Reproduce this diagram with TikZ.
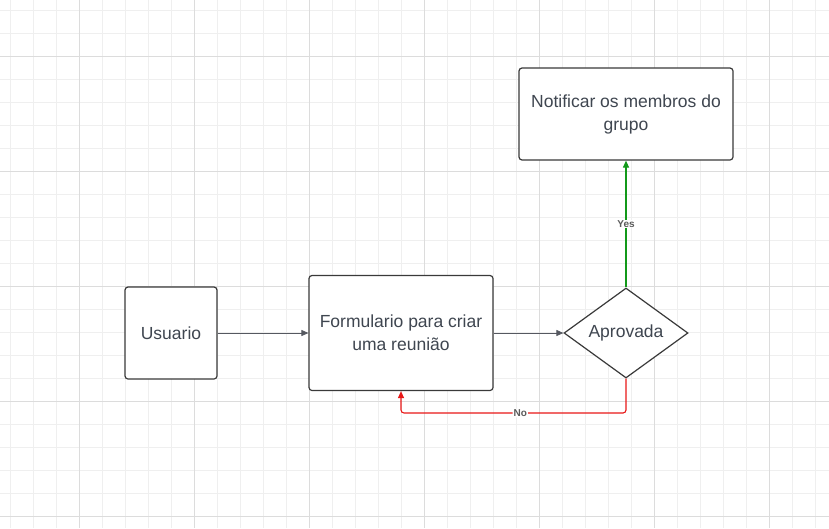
\documentclass[tikz,border=0pt]{standalone}
\usepackage{fontspec}
\setmainfont{Liberation Sans}
\usetikzlibrary{shapes.geometric,arrows.meta}
\definecolor{txt}{HTML}{3F4650}
\definecolor{edge}{HTML}{3A3A3A}
\definecolor{minorg}{HTML}{EFEFEF}
\definecolor{majorg}{HTML}{DCDCDC}
\definecolor{arr}{HTML}{555860}
\definecolor{yesg}{HTML}{13991A}
\definecolor{nor}{HTML}{E81818}
\definecolor{lbl}{HTML}{5A5A5A}
\tikzset{
  box/.style={draw=edge, line width=1.2pt, rounded corners=3pt, fill=white, text=txt, font=\fontsize{17.5}{23}\selectfont, align=center, inner sep=0pt},
  dia/.style={diamond, draw=edge, line width=1.2pt, fill=white, text=txt, font=\fontsize{17.5}{23}\selectfont, aspect=1.38, inner sep=0pt, minimum width=124pt, minimum height=90pt},
  conn/.style={color=arr, line width=0.8pt, -{Triangle[length=7pt,width=6pt]}},
  elabel/.style={fill=white, text=lbl, font=\bfseries\fontsize{10}{12}\selectfont, inner sep=1pt}
}
\begin{document}
\begin{tikzpicture}[x=1pt,y=-1pt]
\useasboundingbox (0,0) rectangle (829,528);
\fill[white] (0,0) rectangle (829,528);
% grid
\foreach \i in {0,...,35} {
  \draw[minorg, line width=0.8pt] (10+23*\i,0) -- (10+23*\i,528);
}
\foreach \j in {0,...,22} {
  \draw[minorg, line width=0.8pt] (0,10+23*\j) -- (829,10+23*\j);
}
\foreach \i in {0,...,6} {
  \draw[majorg, line width=0.8pt] (79+115*\i,0) -- (79+115*\i,528);
}
\foreach \j in {0,...,4} {
  \draw[majorg, line width=0.8pt] (0,56+115*\j) -- (829,56+115*\j);
}
% nodes
\node[box, minimum width=92pt, minimum height=92pt] (usr) at (171,333) {Usuario};
\node[box, minimum width=184pt, minimum height=115pt] (form) at (401,333) {Formulario para criar\\uma reunião};
\node[dia] (apr) at (626,333) {Aprovada};
\node[box, minimum width=214pt, minimum height=92pt] (notif) at (626,114) {Notificar os membros do\\grupo};
\coordinate (c1) at (626,413);
\coordinate (c2) at (401,413);
% connectors
\draw[conn] (usr.east) -- (form.west);
\draw[conn] (form.east) -- (apr.west);
\draw[conn, color=yesg, line width=1.1pt] (apr.north) -- node[elabel, pos=0.5] {Yes} (notif.south);
\draw[conn, color=nor, line width=1.1pt, rounded corners=3pt] (apr.south) -- (c1) -- node[elabel, pos=0.47] {No} (c2) -- (form.south);
\end{tikzpicture}
\end{document}
